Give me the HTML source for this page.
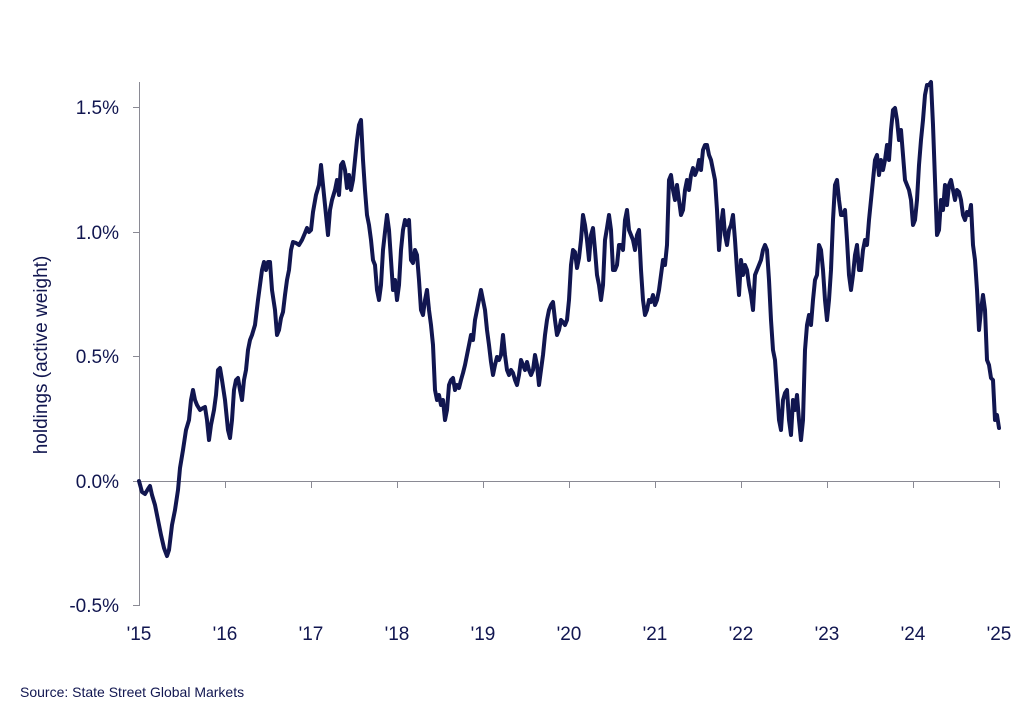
<!DOCTYPE html>
<html><head><meta charset="utf-8"><style>
html,body{margin:0;padding:0;background:#fff;}
svg text{font-family:"Liberation Sans",sans-serif;fill:#111650;}
</style></head><body>
<svg width="1030" height="707" viewBox="0 0 1030 707">
<g stroke="#8a8a94" stroke-width="1" fill="none">
<line x1="139.5" y1="82" x2="139.5" y2="606"/>
<line x1="139" y1="481.5" x2="1000" y2="481.5"/>
<line x1="133" y1="107.5" x2="139" y2="107.5"/>
<line x1="133" y1="232.5" x2="139" y2="232.5"/>
<line x1="133" y1="356.5" x2="139" y2="356.5"/>
<line x1="133" y1="481.5" x2="139" y2="481.5"/>
<line x1="133" y1="605.5" x2="139" y2="605.5"/>
<line x1="225.5" y1="481" x2="225.5" y2="488"/>
<line x1="311.5" y1="481" x2="311.5" y2="488"/>
<line x1="397.5" y1="481" x2="397.5" y2="488"/>
<line x1="483.5" y1="481" x2="483.5" y2="488"/>
<line x1="569.5" y1="481" x2="569.5" y2="488"/>
<line x1="655.5" y1="481" x2="655.5" y2="488"/>
<line x1="741.5" y1="481" x2="741.5" y2="488"/>
<line x1="827.5" y1="481" x2="827.5" y2="488"/>
<line x1="913.5" y1="481" x2="913.5" y2="488"/>
<line x1="999.5" y1="481" x2="999.5" y2="488"/>
</g>
<g font-size="19" text-anchor="end">
<text x="119" y="114">1.5%</text>
<text x="119" y="239">1.0%</text>
<text x="119" y="363">0.5%</text>
<text x="119" y="488">0.0%</text>
<text x="119" y="612">-0.5%</text>
</g>
<g font-size="19" text-anchor="middle">
<text x="139" y="640">'15</text><text x="225" y="640">'16</text><text x="311" y="640">'17</text>
<text x="397" y="640">'18</text><text x="483" y="640">'19</text><text x="569" y="640">'20</text>
<text x="655" y="640">'21</text><text x="741" y="640">'22</text><text x="827" y="640">'23</text>
<text x="913" y="640">'24</text><text x="999" y="640">'25</text>
</g>
<text x="47" y="355" font-size="19" text-anchor="middle" transform="rotate(-90 47 355)">holdings (active weight)</text>
<text x="20" y="697" font-size="14">Source: State Street Global Markets</text>
<polyline fill="none" stroke="#111650" stroke-width="4" stroke-linejoin="round" stroke-linecap="round" points="139,481 142,492 145,494 148,489 150,486 152,495 155,505 158,520 161,535 164,548 167,556 169,550 172,525 175,510 178,490 180,468 183,450 186,430 189,420 191,400 193,390 195,400 197,405 200,410 203,408 205,407 207,420 209,440 211,425 214,410 216,395 218,370 220,368 222,380 225,400 228,430 230,438 232,420 234,390 236,380 238,378 240,390 242,400 244,380 246,370 248,350 250,340 252,335 255,325 258,300 260,285 262,270 264,262 266,270 268,262 270,262 272,290 275,310 277,335 279,330 281,318 283,312 285,295 287,280 289,270 291,250 293,242 296,243 299,245 302,240 305,233 307,228 309,232 311,230 313,212 316,195 319,185 321,165 323,185 326,215 328,235 330,210 332,200 335,190 337,180 339,195 341,165 343,162 345,170 347,188 349,175 351,190 353,180 355,160 357,140 359,125 361,120 363,160 365,190 367,215 369,225 371,240 373,260 375,265 377,290 379,300 381,285 383,250 385,232 387,215 389,230 391,260 393,290 395,280 397,300 399,285 401,250 403,230 405,220 407,225 409,220 411,260 413,263 415,250 417,255 419,280 421,310 423,315 425,300 427,290 429,310 431,325 433,345 435,390 437,400 439,395 441,405 443,400 445,420 447,410 449,385 451,380 453,378 455,390 457,385 459,388 461,380 463,373 465,365 467,355 469,345 471,335 473,340 475,320 477,310 479,300 481,290 483,300 485,310 487,330 489,345 491,362 493,375 495,365 497,357 499,360 501,355 503,335 505,355 507,370 509,375 511,370 513,373 515,380 517,385 519,375 521,360 523,365 525,370 527,362 529,370 531,375 533,370 535,355 537,365 539,385 541,370 543,355 545,335 547,320 549,310 551,305 553,302 555,320 557,335 559,330 561,320 563,322 565,325 567,320 569,300 571,265 573,250 575,252 577,268 579,258 581,240 583,215 585,225 587,240 589,260 591,235 593,228 595,250 597,275 599,285 601,300 603,285 605,240 607,228 609,215 611,230 613,270 615,270 617,265 619,245 621,245 623,250 625,220 627,210 629,230 631,235 633,240 635,250 637,235 639,230 641,270 643,300 645,315 647,310 649,300 651,302 653,295 655,305 657,300 659,290 661,275 663,260 665,265 667,245 669,180 671,175 673,190 675,200 677,185 679,200 681,215 683,210 685,190 687,180 689,190 691,175 693,168 695,175 697,170 699,160 701,170 703,150 705,145 707,145 709,155 711,160 713,170 715,180 717,210 719,250 721,225 723,210 725,235 727,245 729,230 731,225 733,215 735,240 737,270 739,295 741,260 743,275 745,265 747,270 749,285 751,295 753,310 755,275 757,270 759,265 761,260 763,250 765,245 767,250 769,280 771,320 773,350 775,360 777,390 779,420 781,430 783,400 785,393 787,390 789,420 791,435 793,400 795,410 797,395 799,420 801,440 803,420 805,350 807,325 809,315 811,325 813,300 815,280 817,275 819,245 821,250 823,270 825,300 827,320 829,300 831,270 833,220 835,185 837,180 839,200 841,215 843,215 845,210 847,240 849,275 851,290 853,275 855,255 857,245 859,270 861,270 863,250 865,240 867,245 869,220 871,200 873,180 875,160 877,155 879,175 881,160 883,170 885,160 887,145 889,160 891,130 893,110 895,108 897,120 899,140 901,130 903,155 905,180 907,185 909,190 911,200 913,225 915,220 917,200 919,165 921,140 923,120 925,95 927,85 929,85 931,82 933,125 935,180 937,235 939,230 941,200 943,210 945,185 947,205 949,185 951,180 953,190 955,200 957,190 959,192 961,200 963,215 965,220 967,212 969,215 971,205 973,245 975,260 977,290 979,330 981,310 983,295 985,310 987,360 989,365 991,378 993,380 995,420 997,415 999,428"/>
</svg>
</body></html>
